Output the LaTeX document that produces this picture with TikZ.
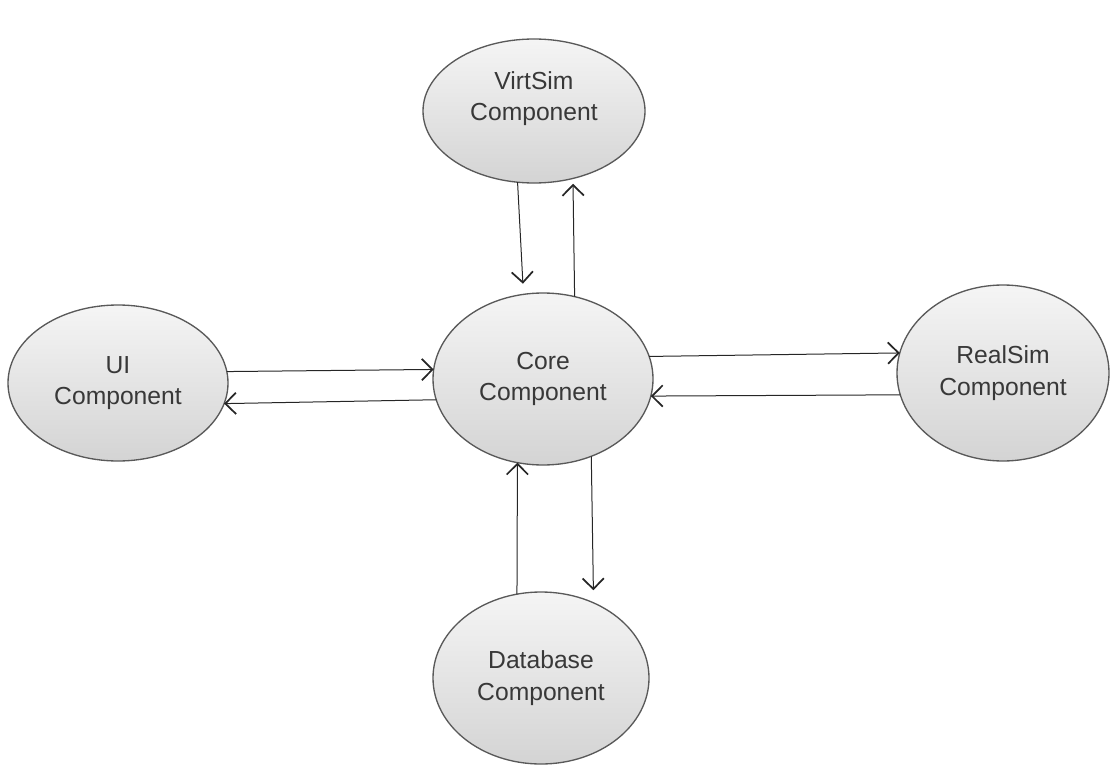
\documentclass[tikz,border=0pt]{standalone}
\usepackage{fontspec}
\setmainfont{Liberation Sans}
\usetikzlibrary{shapes.geometric,arrows.meta}

\begin{document}
\begin{tikzpicture}[x=0.75pt,y=-0.75pt]
    \tikzstyle{comp}=[ellipse, draw=black!65, line width=1pt, top color=black!4, bottom color=black!17, text=black!78, align=center, font=\fontsize{18.5}{23.5}\selectfont, inner sep=0pt, outer sep=0pt]
    \tikzstyle{flow}=[draw=black!85, line width=0.75pt, -{Straight Barb[length=8pt,width=16pt,line width=1.3pt]}]
    \useasboundingbox (0,0) rectangle (1110,767);
    \node [comp, minimum width=166.5pt, minimum height=108pt, text depth=22pt] (virt) at (534,111) {VirtSim\\Component};
    \node [comp, minimum width=165pt, minimum height=129pt] (core) at (543,379) {Core\\Component};
    \node [comp, minimum width=165pt, minimum height=117pt] (ui) at (118,383) {UI\\Component};
    \node [comp, minimum width=159pt, minimum height=132pt] (real) at (1003,373) {RealSim\\Component};
    \node [comp, minimum width=162pt, minimum height=129pt] (data) at (541,678) {Database\\Component};
    % core <-> virtsim
    \draw [flow, shorten >=8pt] (virt.257.5) -- (core.103.6);
    \draw [flow, shorten >=4pt] (core.69.9) -- (virt.300.1);
    % core <-> ui
    \draw [flow] (ui.6.8) -- (core.175.8);
    \draw [flow] (core.191.1) -- (ui.349.9);
    % core <-> realsim
    \draw [flow] (core.12.3) -- (real.169);
    \draw [flow] (real.192.1) -- (core.351);
    % core <-> database
    \draw [flow] (data.106.6) -- (core.253.2);
    \draw [flow, shorten >=9.5pt] (core.302.1) -- (data.55.4);
\end{tikzpicture}
\end{document}
